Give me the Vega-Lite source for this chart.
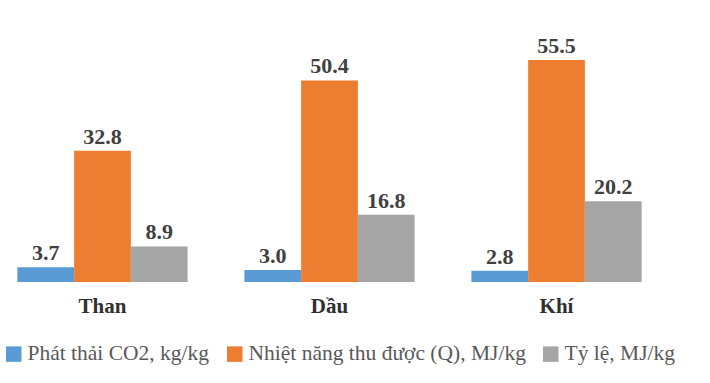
{
  "$schema": "https://vega.github.io/schema/vega-lite/v6.json",
  "width": 659,
  "height": 240,
  "autosize": {"type": "none"},
  "padding": {"top": 42, "left": 0, "right": 51, "bottom": 101},
  "background": "white",
  "config": {"view": {"stroke": null}, "font": "Liberation Serif"},
  "data": {
    "values": [
      {"cat": "Than", "series": "Phát thải CO2, kg/kg", "value": 3.7},
      {"cat": "Than", "series": "Nhiệt năng thu được (Q), MJ/kg", "value": 32.8},
      {"cat": "Than", "series": "Tỷ lệ, MJ/kg", "value": 8.9},
      {"cat": "Dầu", "series": "Phát thải CO2, kg/kg", "value": 3.0},
      {"cat": "Dầu", "series": "Nhiệt năng thu được (Q), MJ/kg", "value": 50.4},
      {"cat": "Dầu", "series": "Tỷ lệ, MJ/kg", "value": 16.8},
      {"cat": "Khí", "series": "Phát thải CO2, kg/kg", "value": 2.8},
      {"cat": "Khí", "series": "Nhiệt năng thu được (Q), MJ/kg", "value": 55.5},
      {"cat": "Khí", "series": "Tỷ lệ, MJ/kg", "value": 20.2}
    ]
  },
  "encoding": {
    "x": {
      "field": "cat", "type": "nominal", "sort": ["Than", "Dầu", "Khí"],
      "scale": {"paddingInner": 0.25, "paddingOuter": 0.0765},
      "axis": {"title": null, "domain": false, "ticks": false, "labelAngle": 0,
        "labelFont": "Liberation Serif", "labelFontWeight": "bold", "labelFontSize": 21,
        "labelColor": "#303030", "labelPadding": 13}
    },
    "xOffset": {"field": "series", "type": "nominal",
      "sort": ["Phát thải CO2, kg/kg", "Nhiệt năng thu được (Q), MJ/kg", "Tỷ lệ, MJ/kg"],
      "scale": {"paddingInner": 0, "paddingOuter": 0}},
    "y": {"field": "value", "type": "quantitative", "scale": {"domain": [0, 60], "nice": false}, "axis": null}
  },
  "layer": [
    {
      "mark": {"type": "bar"},
      "encoding": {
        "color": {
          "field": "series", "type": "nominal",
          "sort": ["Phát thải CO2, kg/kg", "Nhiệt năng thu được (Q), MJ/kg", "Tỷ lệ, MJ/kg"],
          "scale": {"domain": ["Phát thải CO2, kg/kg", "Nhiệt năng thu được (Q), MJ/kg", "Tỷ lệ, MJ/kg"],
            "range": ["#5B9BD5", "#ED7D31", "#A5A5A5"]},
          "legend": {
            "title": null, "orient": "none", "direction": "horizontal",
            "legendX": 3, "legendY": 301,
            "symbolType": "square", "symbolSize": 240, "symbolStrokeWidth": 0,
            "labelFont": "Liberation Serif", "labelFontSize": 21.5, "labelColor": "#595959",
            "labelOffset": 3, "columnPadding": 14, "labelLimit": 400
          }
        }
      }
    },
    {
      "mark": {"type": "text", "baseline": "alphabetic", "dy": -7, "font": "Liberation Serif", "fontWeight": "bold", "fontSize": 22, "color": "#404040"},
      "encoding": {"text": {"field": "value", "type": "quantitative", "format": ".1f"}}
    }
  ]
}
